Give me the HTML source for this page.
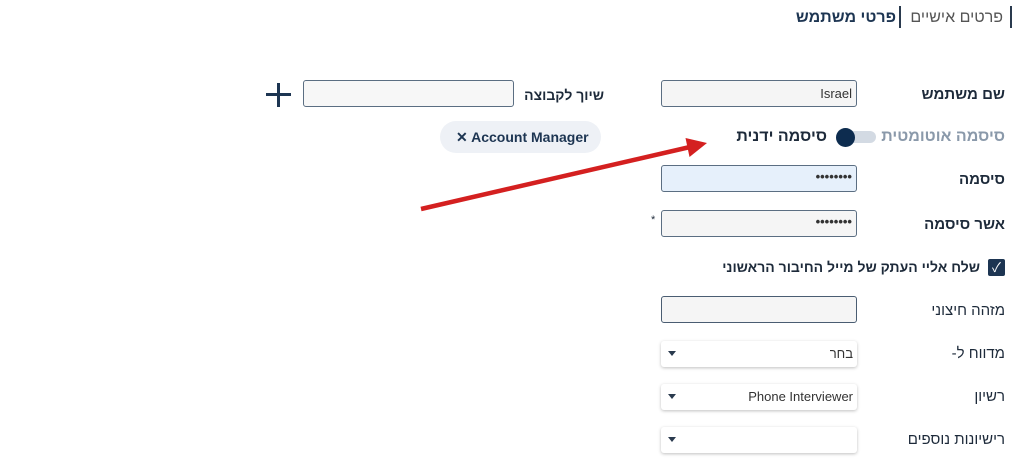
<!DOCTYPE html>
<html><head><meta charset="utf-8"><style>
body{margin:0;width:1024px;height:476px;background:#fff;position:relative;overflow:hidden;font-family:"Liberation Sans","Noto Sans CJK JP",sans-serif;color:#1d2a3a}
.a{position:absolute}
.lbl{position:absolute;direction:rtl;white-space:nowrap;font-size:15px;line-height:18px}
.b{font-weight:bold}
.in{position:absolute;box-sizing:border-box;border:1.5px solid #5b6e82;border-radius:3px;background:#f5f5f5;height:27px}
.sel{position:absolute;left:661px;width:196px;height:26px;background:#fff;border-radius:3px;box-shadow:0 1px 3px rgba(0,0,0,.25)}
.tri{position:absolute;left:7px;top:10px;width:0;height:0;border-left:4px solid transparent;border-right:4px solid transparent;border-top:5px solid #2a3a4e}
.st{position:absolute;right:4px;top:5px;font-size:13px;color:#333;direction:rtl}
</style></head><body>
<div class="a" style="left:1010px;top:6px;width:2px;height:22px;background:#2a3a4e"></div>
<div class="lbl" style="right:21px;top:9px;font-size:16px;color:#555">פרטים אישיים</div>
<div class="a" style="left:899px;top:6px;width:2px;height:22px;background:#2a3a4e"></div>
<div class="lbl b" style="right:128px;top:9px;font-size:16px;color:#1d3552">פרטי משתמש</div>

<div class="lbl b" style="right:19px;top:86px">שם משתמש</div>
<div class="in" style="left:661px;top:80px;width:196px"><span class="st">Israel</span></div>
<div class="lbl b" style="right:420px;top:86px;font-size:14px">שיוך לקבוצה</div>
<div class="in" style="left:303px;top:80px;width:211px;background:#f7f7f7"></div>
<div class="a" style="left:266px;top:93px;width:25px;height:3px;background:#1d3552"></div>
<div class="a" style="left:277px;top:83px;width:3px;height:24px;background:#1d3552"></div>
<div class="a" style="left:440px;top:121px;width:161px;height:32px;border-radius:16px;background:#eef1f6"></div>
<div class="a b" style="left:456px;top:129px;font-size:14px;color:#1d3552;direction:ltr">✕ Account Manager</div>

<div class="lbl b" style="right:19px;top:128px;font-size:16px;color:#8a99aa">סיסמה אוטומטית</div>
<div class="a" style="left:836px;top:131px;width:40px;height:12px;border-radius:6px;background:#d3dae3"></div>
<div class="a" style="left:836px;top:128px;width:19px;height:19px;border-radius:50%;background:#0d2c4f"></div>
<div class="lbl b" style="right:197px;top:128px;font-size:16px;color:#1d2a3a">סיסמה ידנית</div>

<div class="lbl b" style="right:19px;top:171px">סיסמה</div>
<div class="in" style="left:661px;top:165px;width:196px;background:#e6f0fb"><span class="st b" style="top:3px">••••••••</span></div>
<div class="lbl b" style="right:19px;top:216px">אשר סיסמה</div>
<div class="in" style="left:661px;top:210px;width:196px"><span class="st b" style="top:3px">••••••••</span></div>
<div class="a" style="left:651px;top:214px;font-size:11px">*</div>

<div class="a" style="left:988px;top:259px;width:17px;height:17px;border-radius:2px;background:#1d3552;color:#fff;font-size:13px;line-height:17px;text-align:center">✓</div>
<div class="lbl b" style="right:44px;top:258px;font-size:14px">שלח אליי העתק של מייל החיבור הראשוני</div>

<div class="lbl" style="right:19px;top:302px">מזהה חיצוני</div>
<div class="in" style="left:661px;top:296px;width:196px;border-color:#4a5d72"></div>
<div class="lbl" style="right:19px;top:345px">מדווח ל-</div>
<div class="sel" style="top:341px"><div class="tri"></div><span class="st">בחר</span></div>
<div class="lbl" style="right:19px;top:388px">רשיון</div>
<div class="sel" style="top:384px"><div class="tri"></div><span class="st" style="direction:ltr">Phone Interviewer</span></div>
<div class="lbl" style="right:19px;top:431px">רישיונות נוספים</div>
<div class="sel" style="top:427px"><div class="tri"></div></div>

<svg class="a" style="left:0;top:0" width="1024" height="476">
<line x1="421" y1="209" x2="690" y2="147" stroke="#d42020" stroke-width="4.5"/>
<polygon points="707,143 689.5,157 685.5,138" fill="#d42020"/>
</svg>
</body></html>
